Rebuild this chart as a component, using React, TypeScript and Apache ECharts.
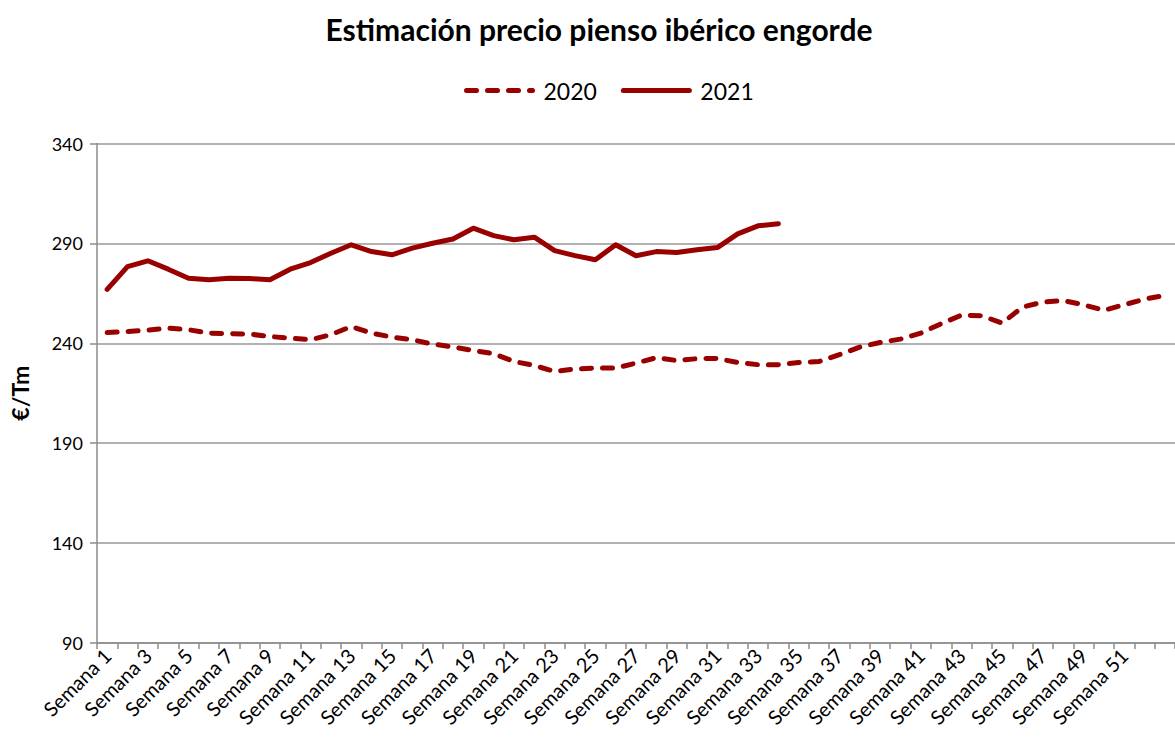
import React, { useEffect, useRef } from "react";
import * as echarts from "echarts";

const weeks: string[] = Array.from({ length: 53 }, (_, i) => `Semana ${i + 1}`);

const values2020: number[] = [
  245.4, 245.9, 246.6, 247.6, 246.8, 245.1, 244.8, 244.6, 243.4, 242.6,
  241.8, 244.3, 248.4, 245.1, 243.1, 241.8, 239.6, 238.2, 236.4, 234.8,
  230.9, 228.9, 225.9, 227.1, 227.6, 227.6, 230.1, 232.8, 231.4, 232.3,
  232.4, 230.4, 229.3, 229.3, 230.4, 230.9, 234.3, 238.1, 240.4, 242.1,
  245.1, 249.8, 254.1, 253.8, 250.1, 258.1, 260.6, 261.4, 259.3, 256.5,
  259.3, 262.1, 264.0,
];

const values2021: number[] = [
  267.0, 278.4, 281.3, 277.1, 272.6, 271.8, 272.6, 272.4, 271.8, 277.1,
  280.4, 285.1, 289.3, 285.9, 284.3, 287.6, 290.1, 292.2, 297.6, 293.9,
  291.8, 293.1, 286.4, 283.9, 281.8, 289.3, 283.8, 285.9, 285.4, 286.8,
  287.9, 294.8, 298.8, 299.8,
];

const seriesNames = ["2020", "2021"];
const titleText = "Estimación precio pienso ibérico engorde";
const yAxisName = "€/Tm";

const FONT = "Lato, 'Open Sans', sans-serif";
const RED = "#990000";

export default function App() {
  const ref = useRef<HTMLDivElement>(null);

  useEffect(() => {
    if (!ref.current) return;
    const chart = echarts.init(ref.current, undefined, { renderer: "svg" });
    chart.setOption({
      animation: false,
      backgroundColor: "#ffffff",
      textStyle: { fontFamily: FONT },
      title: {
        text: titleText,
        left: 594,
        textAlign: "center",
        top: 9,
        textStyle: { fontFamily: FONT, fontSize: 30, fontWeight: "bold", color: "#000" },
      },
      legend: {
        data: seriesNames,
        left: 459,
        top: 74,
        itemWidth: 66,
        itemHeight: 14,
        itemGap: 24,
        itemStyle: { color: "rgba(0,0,0,0)", borderWidth: 0 },
        lineStyle: { width: 5, cap: "round" },
        textStyle: { fontFamily: FONT, fontSize: 23, color: "#000", padding: [0, 0, 0, 6] },
      },
      grid: { left: 97, right: -14, top: 143.5, bottom: 97, containLabel: false },
      xAxis: {
        type: "category",
        data: weeks,
        boundaryGap: true,
        axisLine: { lineStyle: { color: "#8c8c8c", width: 1.5 } },
        axisTick: { show: true, length: 6, interval: 0, lineStyle: { color: "#8c8c8c", width: 1.5 } },
        axisLabel: {
          interval: (index: number) => index % 2 === 0 && index < 52,
          rotate: 45,
          margin: 9,
          fontFamily: FONT,
          fontSize: 20,
          color: "#000",
        },
        splitLine: { show: false },
      },
      yAxis: {
        type: "value",
        min: 90,
        max: 340,
        interval: 50,
        name: yAxisName,
        nameLocation: "middle",
        nameGap: 66,
        nameTextStyle: { fontFamily: FONT, fontSize: 23, fontWeight: "bold", color: "#000" },
        axisLine: { show: true, lineStyle: { color: "#8c8c8c", width: 1.5 } },
        axisTick: { show: true, length: 7, lineStyle: { color: "#8c8c8c", width: 1.5 } },
        axisLabel: { margin: 14, fontFamily: FONT, fontSize: 18, color: "#000" },
        splitLine: { show: true, lineStyle: { color: "#989898", width: 1.5 } },
      },
      series: [
        {
          name: seriesNames[0],
          type: "line",
          data: values2020,
          symbol: "none",
          showSymbol: false,
          color: RED,
          lineStyle: { color: RED, width: 5, type: [10, 11], cap: "round", join: "round" },
        },
        {
          name: seriesNames[1],
          type: "line",
          data: values2021,
          symbol: "none",
          showSymbol: false,
          color: RED,
          lineStyle: { color: RED, width: 5, type: "solid", cap: "round", join: "round" },
        },
      ],
    });
    return () => chart.dispose();
  }, []);

  return (
    <div
      ref={ref}
      style={{ position: "absolute", left: 0, top: 0, width: 1175, height: 740, overflow: "hidden" }}
    />
  );
}
